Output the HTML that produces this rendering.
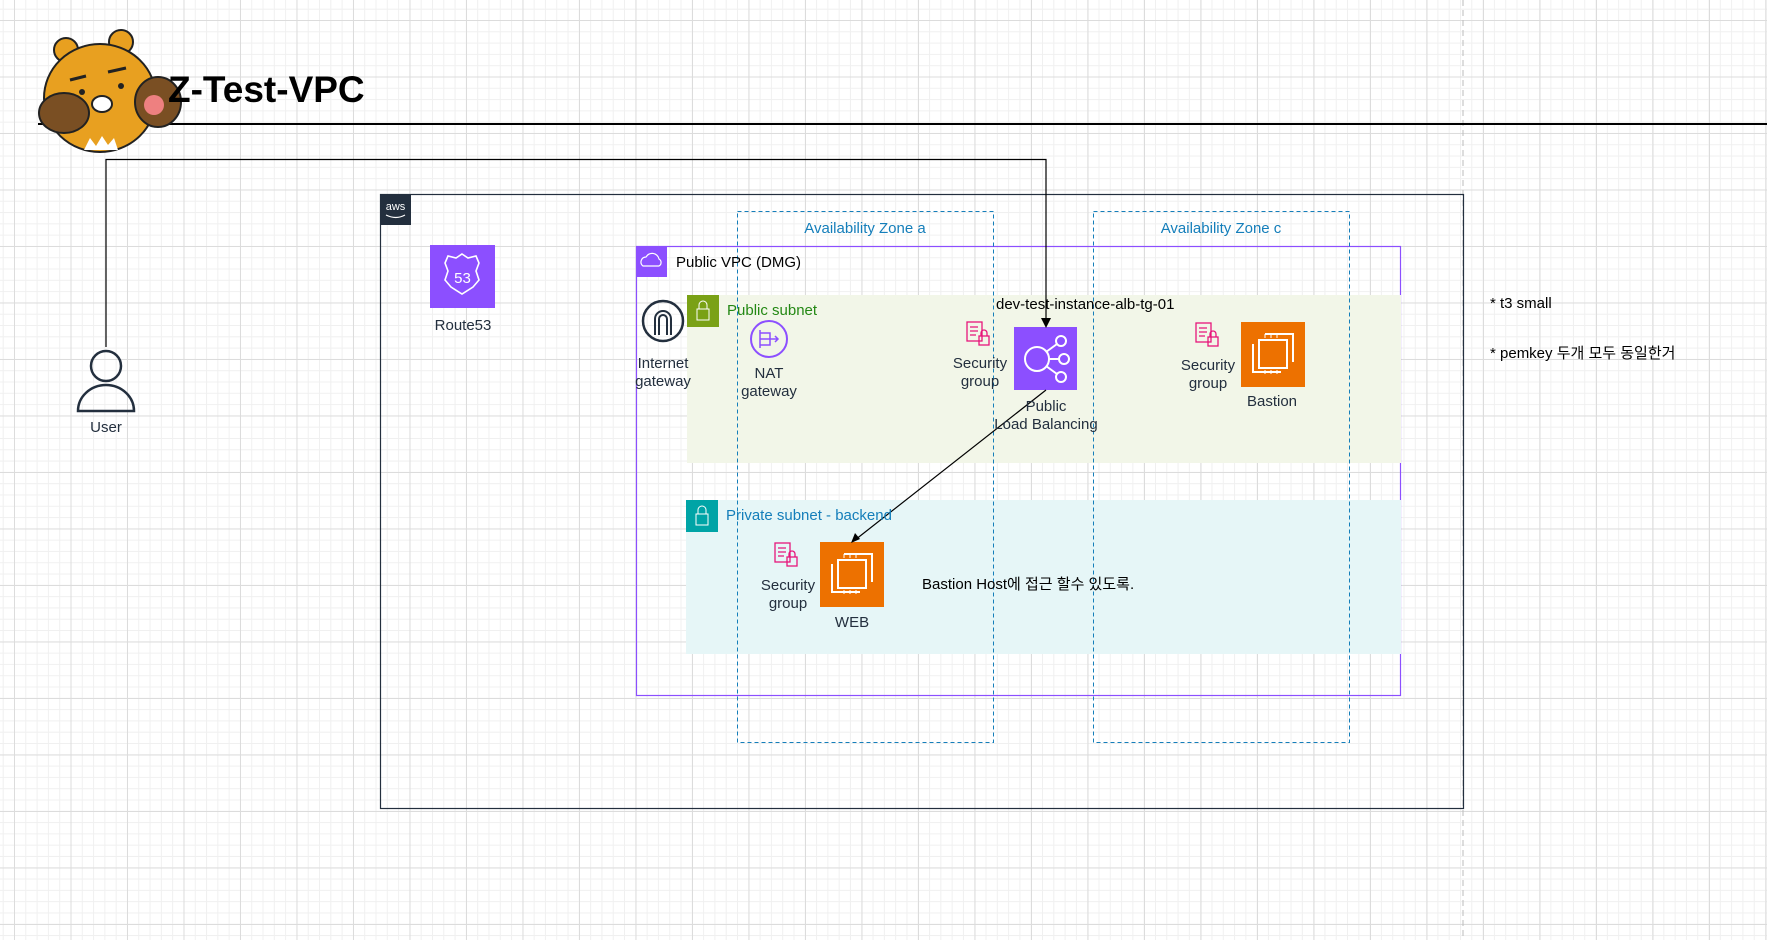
<!DOCTYPE html>
<html><head><meta charset="utf-8"><style>
html,body{margin:0;padding:0}
body{width:1767px;height:940px;position:relative;overflow:hidden;background:#fff;
background-image:linear-gradient(#dcdcdc 1px,transparent 1px),linear-gradient(90deg,#dcdcdc 1px,transparent 1px),linear-gradient(#f0f0f0 1px,transparent 1px),linear-gradient(90deg,#f0f0f0 1px,transparent 1px);
background-size:56.5px 56.5px,56.5px 56.5px,11.3px 11.3px,11.3px 11.3px;background-position:14px 20px,14px 20px,14px 20px,14px 20px;
font-family:"Liberation Sans","Noto Sans CJK KR",sans-serif;font-size:15px;color:#232f3e}
.a{position:absolute}
.c{position:absolute;text-align:center;line-height:18px}
</style></head><body>
<svg class="a" style="left:0;top:0" width="1767" height="940">
<line x1="1463" y1="0" x2="1463" y2="940" stroke="#bbb" stroke-dasharray="6,4"/>
<line x1="38" y1="124" x2="1767" y2="124" stroke="#000" stroke-width="2"/>
<rect x="380.5" y="194.5" width="1083" height="614" fill="none" stroke="#232f3e" stroke-width="1.2"/>
<rect x="380" y="194" width="31" height="31" fill="#232f3e"/>
<text x="395.5" y="210" font-size="11" fill="#fff" text-anchor="middle" font-family="Liberation Sans">aws</text>
<path d="M386 215 q10 5 19 0" stroke="#fff" fill="none" stroke-width="1.2"/>
<rect x="636.5" y="246.5" width="764" height="449" fill="none" stroke="#8c4fff" stroke-width="1.2"/>
<rect x="636" y="246" width="31" height="31" fill="#8c4fff"/>
<path d="M643 266 a5 5 0 0 1 3 -9 a7 7 0 0 1 13 2 a4 4 0 0 1 0 7z" fill="none" stroke="#fff" stroke-width="1.2"/>
<rect x="687" y="295" width="714" height="168" fill="#f2f6e8"/>
<rect x="687" y="295" width="32" height="32" fill="#7aa116"/>
<rect x="697" y="309" width="12" height="11" fill="none" stroke="#fff"/><path d="M699 309 v-4 a4 4 0 0 1 8 0 v4" fill="none" stroke="#fff"/>
<rect x="686" y="500" width="715" height="154" fill="#e6f6f7"/>
<rect x="686" y="500" width="32" height="32" fill="#00a4a6"/>
<rect x="696" y="514" width="12" height="11" fill="none" stroke="#fff"/><path d="M698 514 v-4 a4 4 0 0 1 8 0 v4" fill="none" stroke="#fff"/>
<rect x="737.5" y="211.5" width="256" height="531" fill="none" stroke="#147eba" stroke-dasharray="4,3"/>
<rect x="1093.5" y="211.5" width="256" height="531" fill="none" stroke="#147eba" stroke-dasharray="4,3"/>
<rect x="430" y="245" width="65" height="63" fill="#8c4fff"/>
<path d="M462 254 l6 4 8 -2 3 7 -3 8 3 9 -6 7 -11 7 -11 -7 -6 -7 3 -9 -3 -8 3 -7 8 2z" fill="none" stroke="#fff" stroke-width="1.6"/>
<text x="462.5" y="283" font-size="15" fill="#fff" text-anchor="middle">53</text>
<circle cx="106" cy="366" r="15" fill="none" stroke="#232f3e" stroke-width="2.5"/>
<path d="M78 411 a28 26 0 0 1 56 0z" fill="none" stroke="#232f3e" stroke-width="2.5"/>
<circle cx="663" cy="321" r="20" fill="none" stroke="#232f3e" stroke-width="2.5"/>
<path d="M655 335 v-16 a8 8 0 0 1 16 0 v16 M659 335 v-16 a4 4 0 0 1 8 0 v16" fill="none" stroke="#232f3e" stroke-width="2"/>
<circle cx="769" cy="339" r="18" fill="none" stroke="#8c4fff" stroke-width="2"/>
<path d="M760 330 v18 M760 333 h10 v12 h-10 M760 339 h18 M775 336 l3 3 -3 3" fill="none" stroke="#8c4fff" stroke-width="1.5"/>
<g fill="none" stroke="#e7157b" stroke-width="1.3">
<g transform="translate(967,322)"><rect x="0" y="0" width="15" height="19"/><path d="M3 5h8M3 9h8M3 13h6"/><rect x="12" y="14" width="10" height="9"/><path d="M14 14v-3a3 3 0 0 1 6 0v3"/></g>
<g transform="translate(1196,323)"><rect x="0" y="0" width="15" height="19"/><path d="M3 5h8M3 9h8M3 13h6"/><rect x="12" y="14" width="10" height="9"/><path d="M14 14v-3a3 3 0 0 1 6 0v3"/></g>
<g transform="translate(775,543)"><rect x="0" y="0" width="15" height="19"/><path d="M3 5h8M3 9h8M3 13h6"/><rect x="12" y="14" width="10" height="9"/><path d="M14 14v-3a3 3 0 0 1 6 0v3"/></g>
</g>
<rect x="1014" y="327" width="63" height="63" fill="#8c4fff"/>
<circle cx="1037" cy="359" r="12" fill="none" stroke="#fff" stroke-width="2"/>
<circle cx="1061" cy="341" r="5" fill="none" stroke="#fff" stroke-width="2"/>
<circle cx="1064" cy="359" r="5" fill="none" stroke="#fff" stroke-width="2"/>
<circle cx="1061" cy="377" r="5" fill="none" stroke="#fff" stroke-width="2"/>
<path d="M1049 359h10M1046 352l11-8M1046 366l11 8" stroke="#fff" stroke-width="2"/>
<g transform="translate(1241,322)"><rect width="64" height="65" fill="#ed7100"/><rect x="18" y="18" width="28" height="28" fill="none" stroke="#fff" stroke-width="2"/><path d="M12 22v28h28M24 12h28v28" fill="none" stroke="#fff" stroke-width="2"/><path d="M24 16v-4M30 16v-4M36 16v-4M24 48v4M30 48v4M36 48v4" stroke="#fff"/></g>
<g transform="translate(820,542)"><rect width="64" height="65" fill="#ed7100"/><rect x="18" y="18" width="28" height="28" fill="none" stroke="#fff" stroke-width="2"/><path d="M12 22v28h28M24 12h28v28" fill="none" stroke="#fff" stroke-width="2"/><path d="M24 16v-4M30 16v-4M36 16v-4M24 48v4M30 48v4M36 48v4" stroke="#fff"/></g>
<path d="M106 347 V159.5 H1046 V322" fill="none" stroke="#000" stroke-width="1.2"/>
<path d="M1041 318 l5 10 5 -10 z" fill="#000"/>
<line x1="1046" y1="390" x2="855" y2="540" stroke="#000" stroke-width="1.2"/>
<path d="M851 543 l4 -10 5 6z" fill="#000"/>
<g>
<circle cx="66" cy="50" r="12" fill="#e8a020" stroke="#222" stroke-width="2"/>
<circle cx="121" cy="42" r="12" fill="#e8a020" stroke="#222" stroke-width="2"/>
<ellipse cx="100" cy="98" rx="56" ry="54" fill="#e8a020" stroke="#222" stroke-width="2"/>
<path d="M84 150 l6-12 6 8 6-10 6 9 6-7 4 12z" fill="#fff"/>
<ellipse cx="64" cy="113" rx="25" ry="20" fill="#7a4f23" stroke="#222" stroke-width="2"/>
<ellipse cx="158" cy="102" rx="23" ry="25" fill="#7a4f23" stroke="#222" stroke-width="2"/>
<circle cx="154" cy="105" r="10" fill="#ee8080"/>
<ellipse cx="102" cy="104" rx="10" ry="8" fill="#fff" stroke="#222" stroke-width="2"/>
<circle cx="82" cy="92" r="3" fill="#222"/><circle cx="121" cy="86" r="3" fill="#222"/>
<path d="M70 80l16-4M108 72l18-4" stroke="#222" stroke-width="3"/>
</g>
</svg>
<div class="a" style="left:168px;top:69px;font-size:37px;font-weight:bold;color:#000">Z-Test-VPC</div>
<div class="c" style="left:413px;top:317px;width:100px">Route53</div>
<div class="c" style="left:56px;top:419px;width:100px">User</div>
<div class="a" style="left:676px;top:254px;color:#000">Public VPC (DMG)</div>
<div class="c" style="left:765px;top:220px;width:200px;color:#147eba">Availability Zone a</div>
<div class="c" style="left:1121px;top:220px;width:200px;color:#147eba">Availability Zone c</div>
<div class="a" style="left:727px;top:302px;color:#248814">Public subnet</div>
<div class="a" style="left:726px;top:507px;color:#147eba">Private subnet - backend</div>
<div class="c" style="left:613px;top:355px;width:100px">Internet<br>gateway</div>
<div class="c" style="left:719px;top:365px;width:100px">NAT<br>gateway</div>
<div class="c" style="left:930px;top:355px;width:100px">Security<br>group</div>
<div class="c" style="left:1158px;top:357px;width:100px">Security<br>group</div>
<div class="c" style="left:738px;top:577px;width:100px">Security<br>group</div>
<div class="a" style="left:996px;top:296px;color:#000">dev-test-instance-alb-tg-01</div>
<div class="c" style="left:966px;top:398px;width:160px">Public<br>Load Balancing</div>
<div class="c" style="left:1222px;top:393px;width:100px">Bastion</div>
<div class="c" style="left:802px;top:614px;width:100px">WEB</div>
<div class="a" style="left:922px;top:573px;color:#000">Bastion Host에 접근 할수 있도록.</div>
<div class="a" style="left:1490px;top:295px;color:#000">* t3 small</div>
<div class="a" style="left:1490px;top:342px;color:#000">* pemkey 두개 모두 동일한거</div>
</body></html>
